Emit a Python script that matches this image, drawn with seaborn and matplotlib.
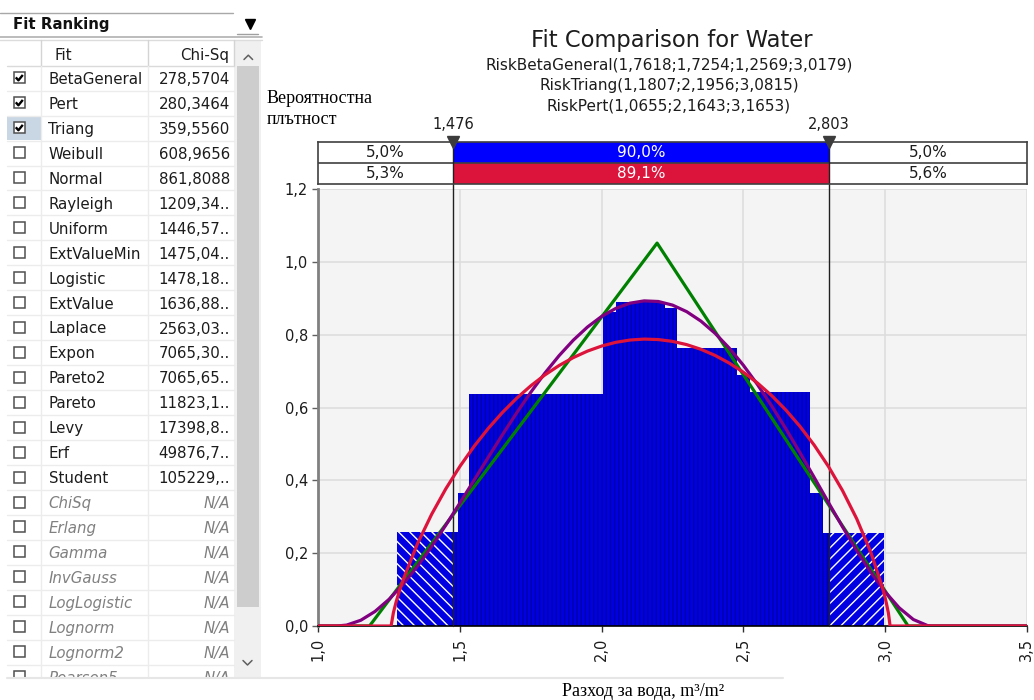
import matplotlib
matplotlib.use("Agg")
import matplotlib.pyplot as plt
import matplotlib.patches as mpatches
from matplotlib.ticker import FuncFormatter
import numpy as np
import seaborn as sns

# ------------------------------------------------------------------ data
hist_edges = [1.279, 1.476, 1.492, 1.533, 2.006, 2.051, 2.224, 2.266,
              2.476, 2.523, 2.737, 2.782, 2.803, 2.997]
hist_density = [0.259, 0.259, 0.366, 0.637, 0.864, 0.890, 0.875, 0.765,
                0.690, 0.642, 0.366, 0.256, 0.256]

beta_x = [1.0, 1.2569, 1.265, 1.275, 1.29,
          1.30, 1.35, 1.40, 1.45, 1.50, 1.55, 1.60, 1.65, 1.70, 1.75,
          1.80, 1.85, 1.90, 1.95, 2.00, 2.05, 2.10, 2.15, 2.20, 2.25,
          2.30, 2.35, 2.40, 2.45, 2.50, 2.55, 2.60, 2.65, 2.70, 2.75,
          2.80, 2.85, 2.90, 2.95,
          2.99, 3.00, 3.005, 3.012, 3.0179, 3.5]
beta_y = [0.0, 0.0, 0.0365, 0.0671, 0.1056,
          0.1285, 0.2262, 0.3070, 0.3770, 0.4389, 0.4939, 0.5431, 0.5869, 0.6258, 0.6601,
          0.6901, 0.7159, 0.7376, 0.7554, 0.7693, 0.7795, 0.7858, 0.7884, 0.7871, 0.7821,
          0.7732, 0.7604, 0.7436, 0.7226, 0.6974, 0.6676, 0.6331, 0.5935, 0.5484, 0.4971,
          0.4388, 0.3721, 0.2948, 0.2021,
          0.1079, 0.0786, 0.0621, 0.0353, 0.0, 0.0]

pert_x = [1.0, 1.0655,
          1.10, 1.15, 1.20, 1.25, 1.30, 1.35, 1.40, 1.45, 1.50, 1.55,
          1.60, 1.65, 1.70, 1.75, 1.80, 1.85, 1.90, 1.95, 2.00, 2.05,
          2.10, 2.15, 2.20, 2.25, 2.30, 2.35, 2.40, 2.45, 2.50, 2.55,
          2.60, 2.65, 2.70, 2.75, 2.80, 2.85, 2.90, 2.95, 3.00, 3.05,
          3.10, 3.15, 3.1653, 3.5]
pert_y = [0.0, 0.0,
          0.0025, 0.0158, 0.0399, 0.0735, 0.1155, 0.1644, 0.2187, 0.2772, 0.3383, 0.4010,
          0.4638, 0.5257, 0.5856, 0.6424, 0.6952, 0.7431, 0.7855, 0.8216, 0.8508, 0.8728,
          0.8871, 0.8934, 0.8917, 0.8818, 0.8638, 0.8380, 0.8045, 0.7639, 0.7166, 0.6633,
          0.6048, 0.5421, 0.4762, 0.4084, 0.3399, 0.2725, 0.2077, 0.1476, 0.0942, 0.0500,
          0.0178, 0.0012, 0.0, 0.0]

triang_x = [1.0, 1.1807, 2.1956, 3.0815, 3.5]
triang_y = [0.0, 0.0, 1.0522, 0.0, 0.0]

markers = [1.476, 2.803]
input_pct = ["5,0%", "90,0%", "5,0%"]
fit_pct = ["5,3%", "89,1%", "5,6%"]

title = "Fit Comparison for Water"
subtitles = ["RiskBetaGeneral(1,7618;1,7254;1,2569;3,0179)",
             "RiskTriang(1,1807;2,1956;3,0815)",
             "RiskPert(1,0655;2,1643;3,1653)"]
ylabel_lines = ["Вероятностна", "плътност"]
xlabel = "Разход за вода, m³/m²"
x_ticks = [1.0, 1.5, 2.0, 2.5, 3.0, 3.5]
y_ticks = [0.0, 0.2, 0.4, 0.6, 0.8, 1.0, 1.2]

panel_title = "Fit Ranking"
col_headers = ["Fit", "Chi-Sq"]
fit_names = ["BetaGeneral", "Pert", "Triang", "Weibull", "Normal", "Rayleigh",
             "Uniform", "ExtValueMin", "Logistic", "ExtValue", "Laplace", "Expon",
             "Pareto2", "Pareto", "Levy", "Erf", "Student", "ChiSq", "Erlang",
             "Gamma", "InvGauss", "LogLogistic", "Lognorm", "Lognorm2", "Pearson5"]
chi_sq = ["278,5704", "280,3464", "359,5560", "608,9656", "861,8088", "1209,34..",
          "1446,57..", "1475,04..", "1478,18..", "1636,88..", "2563,03..", "7065,30..",
          "7065,65..", "11823,1..", "17398,8..", "49876,7..", "105229,..", "N/A", "N/A",
          "N/A", "N/A", "N/A", "N/A", "N/A", "N/A"]
checked = ["BetaGeneral", "Pert", "Triang"]
selected = "Triang"

# ------------------------------------------------------------------ style
sns.set_style("white")
plt.rcParams["font.family"] = ["DejaVu Sans"]
plt.rcParams["hatch.linewidth"] = 1.0

W, H = 1034, 700
L, R, T, B = 318.3, 1026.7, 189.3, 626.0
TXT = "#1c1c1c"
BAR = "#0000e2"
PANEL_BOTTOM = 676.7

fig = plt.figure(figsize=(W / 100, H / 100), dpi=100, facecolor="white")

# overlay for page elements (pixel coordinates, y downwards)
ov = fig.add_axes([0, 0, 1, 1])
ov.set_xlim(0, W)
ov.set_ylim(H, 0)
ov.axis("off")
ov.set_zorder(-1)

# ------------------------------------------------------------------ main chart
ax = fig.add_axes([L / W, (H - B) / H, (R - L) / W, (B - T) / H])
ax.set_zorder(1)
ax.set_facecolor("#f4f4f4")

edges = np.array(hist_edges)
centers = (edges[:-1] + edges[1:]) / 2
sns.histplot(x=centers, weights=hist_density, bins=hist_edges, stat="count",
             color=BAR, alpha=1, edgecolor="#0000a6", linewidth=0,
             hatch="||||", ax=ax, zorder=2)
for i, dens in enumerate(hist_density):
    lo, hi = hist_edges[i], hist_edges[i + 1]
    if hi <= markers[0]:
        hp = "\\\\\\"
    elif lo >= markers[1]:
        hp = "///"
    else:
        continue
    sns.histplot(x=[centers[i]], weights=[dens], bins=[lo, hi], stat="count",
                 color=BAR, alpha=1, edgecolor="white", linewidth=0,
                 hatch=hp, ax=ax, zorder=2.5)

top_frac = (B - 141.7) / (B - T)
for m in markers:
    ax.axvline(m, ymin=0, ymax=top_frac, color="#202020", lw=1.0,
               clip_on=False, zorder=3)

sns.lineplot(x=triang_x, y=triang_y, color="#008000", linewidth=2.3,
             estimator=None, sort=False, ax=ax, zorder=4)
sns.lineplot(x=pert_x, y=pert_y, color="#800080", linewidth=2.3,
             estimator=None, sort=False, ax=ax, zorder=5)
sns.lineplot(x=beta_x, y=beta_y, color="#dc143c", linewidth=2.3,
             estimator=None, sort=False, ax=ax, zorder=6)

fmt = FuncFormatter(lambda v, p: f"{v:.1f}".replace(".", ","))
ax.set_xlim(x_ticks[0], x_ticks[-1])
ax.set_ylim(y_ticks[0], y_ticks[-1])
ax.set_xticks(x_ticks)
ax.set_yticks(y_ticks)
ax.xaxis.set_major_formatter(fmt)
ax.yaxis.set_major_formatter(fmt)
ax.set_xlabel("")
ax.set_ylabel("")
ax.grid(True, color="#dcdcdc", lw=1.1)
ax.set_axisbelow(True)
ax.tick_params(axis="x", labelrotation=90, length=4.5, width=1, color="#303030",
               pad=4, labelsize=10.5, labelcolor=TXT, bottom=True)
ax.tick_params(axis="y", length=4.5, width=1, color="#606060", pad=3,
               labelsize=10.5, labelcolor=TXT, left=True)
for s in ["top", "right"]:
    ax.spines[s].set_visible(False)
ax.spines["left"].set_color("#808080")
ax.spines["left"].set_linewidth(2.0)
ax.spines["bottom"].set_color("#000000")
ax.spines["bottom"].set_linewidth(1.2)

# ------------------------------------------------------------------ delimiter bar
dl = fig.add_axes([L / W, (H - 183.7) / H, (R - L) / W, 42 / H])
dl.set_zorder(2)
dl.set_xlim(x_ticks[0], x_ticks[-1])
dl.set_ylim(0, 2)
dl.set_xticks([])
dl.set_yticks([])
dl.set_facecolor("white")
for s in dl.spines.values():
    s.set_color("#404040")
    s.set_linewidth(1.2)
dl.axvspan(markers[0], markers[1], ymin=0.5, ymax=1.0, color="#0000ff", lw=0)
dl.axvspan(markers[0], markers[1], ymin=0.0, ymax=0.5, color="#dc143c", lw=0)
dl.axhline(1, color="#404040", lw=1.2)
bounds = [x_ticks[0]] + markers + [x_ticks[-1]]
for j in range(3):
    cx = (bounds[j] + bounds[j + 1]) / 2
    col = "white" if j == 1 else TXT
    dl.text(cx, 1.5, input_pct[j], ha="center", va="center", color=col, fontsize=11)
    dl.text(cx, 0.5, fit_pct[j], ha="center", va="center", color=col, fontsize=11)
for m in markers:
    dl.axvline(m, color="#202020", lw=1.0)
    dl.plot([m], [2], marker="v", ms=9, color="#3c3c3c", clip_on=False, zorder=6)
    dl.annotate(f"{m:.3f}".replace(".", ","), xy=(m, 2), xytext=(0, 12.5),
                textcoords="offset points", ha="center", va="center",
                fontsize=10.5, color=TXT, annotation_clip=False)

# ------------------------------------------------------------------ titles / labels
ov.text(672, 47, title, ha="center", va="baseline", fontsize=16.3, color=TXT)
for k, s in enumerate(subtitles):
    ov.text(669, 69.5 + 20.5 * k, s, ha="center", va="baseline", fontsize=11, color=TXT)
for k, s in enumerate(ylabel_lines):
    ov.text(267, 103 + 20.5 * k, s, ha="left", va="baseline", fontsize=13,
            family="Liberation Serif", color="black")
ov.text(643.5, 696, xlabel, ha="center", va="baseline", fontsize=13,
        family="Liberation Serif", color="black")

# ------------------------------------------------------------------ left panel
ov.plot([0, 233], [12.5, 12.5], color="#a8a8a8", lw=1)
ov.text(13, 29, panel_title, fontsize=10.8, fontweight="bold", color="#111111",
        va="baseline")
ov.plot([250], [23.5], marker="v", ms=6.5, color="black")
ov.plot([237, 258], [33.5, 33.5], color="#a0a0a0", lw=1)
ov.plot([0, 262], [37, 37], color="#b0b0b0", lw=1.2)
ov.plot([0, 262], [39.5, 39.5], color="#dcdcdc", lw=1)

# scrollbar
ov.add_patch(mpatches.Rectangle((234, 40), 27, PANEL_BOTTOM - 40, fc="#f0f0f0", ec="none"))
ov.add_patch(mpatches.Rectangle((236.7, 66), 22.6, 540.7, fc="#cdcdcd", ec="none"))
ov.plot([244, 248.3, 252.6], [59.5, 55.2, 59.5], color="#606060", lw=1.1)
ov.plot([243, 247.5, 252], [660.5, 665, 660.5], color="#606060", lw=1.1)

# header row
for xv in [41, 148, 234]:
    ov.plot([xv, xv], [40, 66], color="#d4d4d4", lw=1)
ov.plot([7, 234], [66, 66], color="#dadada", lw=1)
ov.text(55, 60, col_headers[0], fontsize=10.8, color=TXT, va="baseline")
ov.text(229.5, 60, col_headers[1], fontsize=10.8, color=TXT, va="baseline", ha="right")

row_h = 24.95
for i, name in enumerate(fit_names):
    top = 65.7 + row_h * i
    rc = top + row_h / 2
    if name == selected:
        ov.add_patch(mpatches.Rectangle((7, top + 0.5), 34, row_h - 1,
                                        fc="#c9d6e3", ec="none"))
    ov.plot([7, 234], [top + row_h, top + row_h], color="#ececec", lw=1)
    for xv in [41, 148]:
        ov.plot([xv, xv], [top, top + row_h], color="#ececec", lw=1)
    ov.add_patch(mpatches.Rectangle((13.5, rc - 5.8), 11, 11,
                                    fc="white", ec="#505050", lw=1.1))
    if name in checked:
        ov.plot([15.8, 18.4, 22.8], [rc - 0.8, rc + 2.2, rc - 3.2],
                color="black", lw=1.7, solid_capstyle="butt")
    na = chi_sq[i] == "N/A"
    col = "#808080" if na else TXT
    style = "italic" if na else "normal"
    ov.text(48.5, top + 18.3, name, fontsize=10.8, color=col,
            style=style, va="baseline")
    ov.text(230, top + 18.3, chi_sq[i], fontsize=10.8, color=col,
            style=style, va="baseline", ha="right")

# panel cut-off at the bottom of the list view
ov.add_patch(mpatches.Rectangle((0, PANEL_BOTTOM), 264, H - PANEL_BOTTOM,
                                fc="white", ec="none", zorder=10))
ov.plot([7, 783], [677.5, 677.5], color="#e6e6e6", lw=1.5, zorder=11)

fig.savefig("out.png", dpi=100, facecolor="white")
